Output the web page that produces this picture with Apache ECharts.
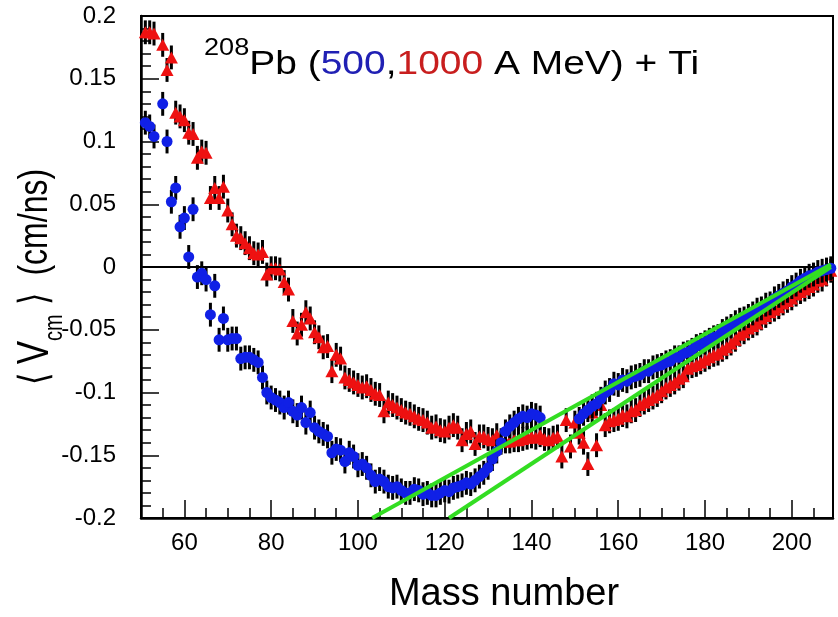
<!DOCTYPE html>
<html>
<head>
<meta charset="utf-8">
<script src="https://cdn.jsdelivr.net/npm/echarts@6/dist/echarts.min.js"></script>
<style>
    html, body { margin: 0; background: #fff; }
    #chart { width: 838px; height: 617px; }
</style>
</head>
<body>
<div id="chart"></div>
<script>
// mass numbers run from firstMass upward, one value per mass, null = no point
const firstMass = 51

// 500 A MeV (blue circles)
const blueV = [
    0.115, 0.112, 0.104, null, 0.130, 0.100, 0.052, 0.063, 0.032, 0.039,
    0.008, 0.046, -0.008, -0.005, -0.010, -0.038, -0.015, -0.058, -0.041, -0.058,
    -0.057, -0.057, -0.073, -0.072, -0.072, -0.074, -0.076, -0.088, -0.100, -0.104,
    -0.106, -0.108, -0.112, -0.108, -0.115, -0.118, -0.112, -0.124, -0.116, -0.128,
    -0.131, -0.133, -0.135, -0.148, -0.145, -0.146, -0.155, -0.148, -0.151, -0.158,
    -0.157, -0.160, -0.166, -0.171, -0.169, -0.171, -0.175, -0.176, -0.175, -0.178,
    -0.180, -0.180, -0.177, -0.178, -0.181, -0.180, -0.182, -0.182, -0.180, -0.178,
    -0.179, -0.176, -0.175, -0.174, -0.172, -0.173, -0.170, -0.167, -0.164, -0.160,
    -0.153, -0.147, -0.140, -0.131, -0.127, -0.124, -0.121, -0.119, -0.120, -0.117,
    -0.118, -0.120, null, null, null, null, null, null, null, null,
    -0.121, -0.117, -0.114, -0.111, -0.109, -0.105, -0.100, -0.098, -0.093, -0.094,
    -0.090, -0.091, -0.088, -0.087, -0.086, -0.083, -0.083, -0.080, -0.079, -0.078,
    -0.076, -0.075, -0.072, -0.072, -0.069, -0.068, -0.066, -0.063, -0.062, -0.060,
    -0.058, -0.056, -0.055, -0.051, -0.049, -0.047, -0.044, -0.042, -0.041, -0.039,
    -0.037, -0.034, -0.033, -0.030, -0.029, -0.025, -0.023, -0.021, -0.019, -0.016,
    -0.014, -0.011, -0.009, -0.007, -0.006, -0.004, -0.003, -0.002, -0.001
]

// 1000 A MeV (red triangles)
const redV = [
    0.187, 0.187, 0.186, null, 0.177, 0.157, 0.167, 0.123, 0.120, 0.117,
    0.107, 0.106, 0.087, 0.092, 0.091, 0.055, 0.063, 0.055, 0.064, 0.045,
    0.034, 0.025, 0.023, 0.019, 0.015, 0.011, 0.010, 0.012, -0.006, -0.001,
    -0.001, -0.002, -0.012, -0.018, -0.043, -0.053, -0.046, -0.036, -0.041, -0.052,
    -0.056, -0.064, -0.063, -0.083, -0.070, -0.073, -0.088, -0.090, -0.092, -0.094,
    -0.096, -0.095, -0.098, -0.101, -0.102, -0.115, -0.108, -0.110, -0.112, -0.114,
    -0.116, -0.117, -0.119, -0.121, -0.122, -0.124, -0.128, -0.127, -0.130, -0.131,
    -0.128, -0.126, -0.128, -0.138, -0.133, -0.131, -0.141, -0.135, -0.135, -0.137,
    -0.138, -0.134, -0.138, -0.139, -0.139, -0.138, -0.138, -0.137, -0.136, -0.135,
    -0.136, -0.134, -0.137, -0.138, -0.136, -0.135, -0.151, -0.122, -0.143, -0.124,
    -0.132, -0.140, -0.157, -0.116, -0.142, -0.110, -0.126, -0.123, -0.122, -0.121,
    -0.118, -0.119, -0.115, -0.114, -0.110, -0.108, -0.106, -0.104, -0.102, -0.099,
    -0.096, -0.094, -0.092, -0.089, -0.087, -0.081, -0.079, -0.078, -0.076, -0.074,
    -0.072, -0.070, -0.069, -0.066, -0.064, -0.061, -0.058, -0.054, -0.052, -0.049,
    -0.047, -0.045, -0.041, -0.039, -0.036, -0.034, -0.032, -0.029, -0.027, -0.025,
    -0.022, -0.020, -0.018, -0.016, -0.014, -0.011, -0.010, -0.006, -0.003
]

// half length of the error bars
const errHalf = 0.0095

// the two straight (green) fits
const fitA = [[103.3, -0.2], [209, 0.002]]
const fitB = [[121, -0.2], [209, 0]]

const xMajor = [60, 80, 100, 120, 140, 160, 180, 200]
const xMinor = [55, 65, 70, 75, 85, 90, 95, 105, 110, 115, 125, 130, 135, 145, 150, 155,
    165, 170, 175, 185, 190, 195, 205]

const FONT = "'Liberation Sans', Arial, Helvetica, sans-serif"

function toPoints(vals) {
    const pts = []
    vals.forEach((v, i) => {
        if (v !== null) pts.push([firstMass + i, v])
    })
    return pts
}

function errorBars(points, z) {
    return {
        type: "custom",
        z: z,
        silent: true,
        data: points.map(p => [p[0], p[1] - errHalf, p[1] + errHalf]),
        encode: { x: 0, y: [1, 2] },
        renderItem(params, api) {
            const lo = api.coord([api.value(0), api.value(1)])
            const hi = api.coord([api.value(0), api.value(2)])
            return {
                type: "rect",
                shape: { x: lo[0] - 1.5, y: hi[1], width: 3, height: lo[1] - hi[1] },
                style: { fill: "#000" }
            }
        }
    }
}

const bluePts = toPoints(blueV)
const redPts = toPoints(redV)

const chart = echarts.init(document.getElementById("chart"))

const axisCommon = {
    type: "value",
    min: 50,
    max: 209.5,
    position: "bottom",
    splitLine: { show: false }
}

chart.setOption({
    animation: false,
    backgroundColor: "#fff",
    grid: {
        left: 141, right: 5, top: 16, bottom: 99,
        show: true, borderColor: "#000", borderWidth: 2
    },
    xAxis: [
        Object.assign({}, axisCommon, {
            axisLine: { show: true, onZero: false, lineStyle: { color: "#000", width: 2.5 } },
            axisTick: { show: true, inside: true, length: 18, customValues: xMajor, lineStyle: { color: "#000", width: 1.5 } },
            axisLabel: { customValues: xMajor, margin: 13, fontSize: 24, color: "#000", fontFamily: FONT }
        }),
        Object.assign({}, axisCommon, {
            axisLine: { show: false, onZero: false },
            axisTick: { show: true, inside: true, length: 10, customValues: xMinor, lineStyle: { color: "#000", width: 1.5 } },
            axisLabel: { show: false }
        })
    ],
    yAxis: {
        type: "value",
        min: -0.2,
        max: 0.2,
        interval: 0.05,
        axisLine: { show: true, onZero: false, lineStyle: { color: "#000", width: 2.5 } },
        axisTick: { show: true, inside: true, length: 18, lineStyle: { color: "#000", width: 1.5 } },
        minorTick: { show: true, splitNumber: 5, length: 10, lineStyle: { color: "#000", width: 1.5 } },
        axisLabel: { margin: 25, fontSize: 24, color: "#000", fontFamily: FONT },
        splitLine: { show: false }
    },
    series: [
        errorBars(redPts, 2),
        {
            type: "scatter",
            z: 3,
            data: redPts,
            symbol: "triangle",
            symbolSize: [13, 12],
            itemStyle: { color: "#ee1111", opacity: 1 },
            markLine: {
                silent: true,
                symbol: "none",
                label: { show: false },
                lineStyle: { color: "#000", width: 2, type: "solid" },
                data: [{ yAxis: 0 }]
            }
        },
        errorBars(bluePts, 4),
        {
            type: "scatter",
            z: 5,
            data: bluePts,
            symbol: "circle",
            symbolSize: 11,
            itemStyle: { color: "#1020e6", opacity: 1 }
        },
        {
            type: "line", z: 10, data: fitA, showSymbol: false, silent: true,
            lineStyle: { color: "#33dd22", width: 4 }
        },
        {
            type: "line", z: 10, data: fitB, showSymbol: false, silent: true,
            lineStyle: { color: "#33dd22", width: 4 }
        }
    ],
    graphic: [
        {
            type: "text",
            x: 204,
            y: 37,
            scaleX: 1.18,
            style: {
                text: "{sup|208}{m|Pb (}{b|500}{m|,}{r|1000}{m| A MeV) + Ti}",
                rich: {
                    sup: { fontSize: 23, lineHeight: 23, verticalAlign: "top", fill: "#000", fontFamily: FONT },
                    m: { fontSize: 33, lineHeight: 56, fill: "#000", fontFamily: FONT },
                    b: { fontSize: 33, lineHeight: 56, fill: "#2020b4", fontFamily: FONT },
                    r: { fontSize: 33, lineHeight: 56, fill: "#c81e1e", fontFamily: FONT }
                }
            }
        },
        {
            type: "text",
            x: 504,
            y: 595,
            style: {
                text: "Mass number",
                fontSize: 38,
                fontFamily: FONT,
                fill: "#000",
                align: "center",
                verticalAlign: "middle"
            }
        },
        {
            type: "text",
            x: 36,
            y: 277,
            rotation: Math.PI / 2,
            scaleY: 1.25,
            style: {
                text: "{a|\u27e8 }{v|V}{s|cm}{a| \u27e9  (cm/ns)}",
                align: "center",
                verticalAlign: "middle",
                rich: {
                    a: { fontSize: 32, lineHeight: 50, fill: "#000", fontFamily: FONT },
                    v: { fontSize: 35, lineHeight: 50, fill: "#000", fontFamily: FONT },
                    s: { fontSize: 20, lineHeight: 20, verticalAlign: "bottom", fill: "#000", fontFamily: FONT }
                }
            }
        }
    ]
})
</script>
</body>
</html>
